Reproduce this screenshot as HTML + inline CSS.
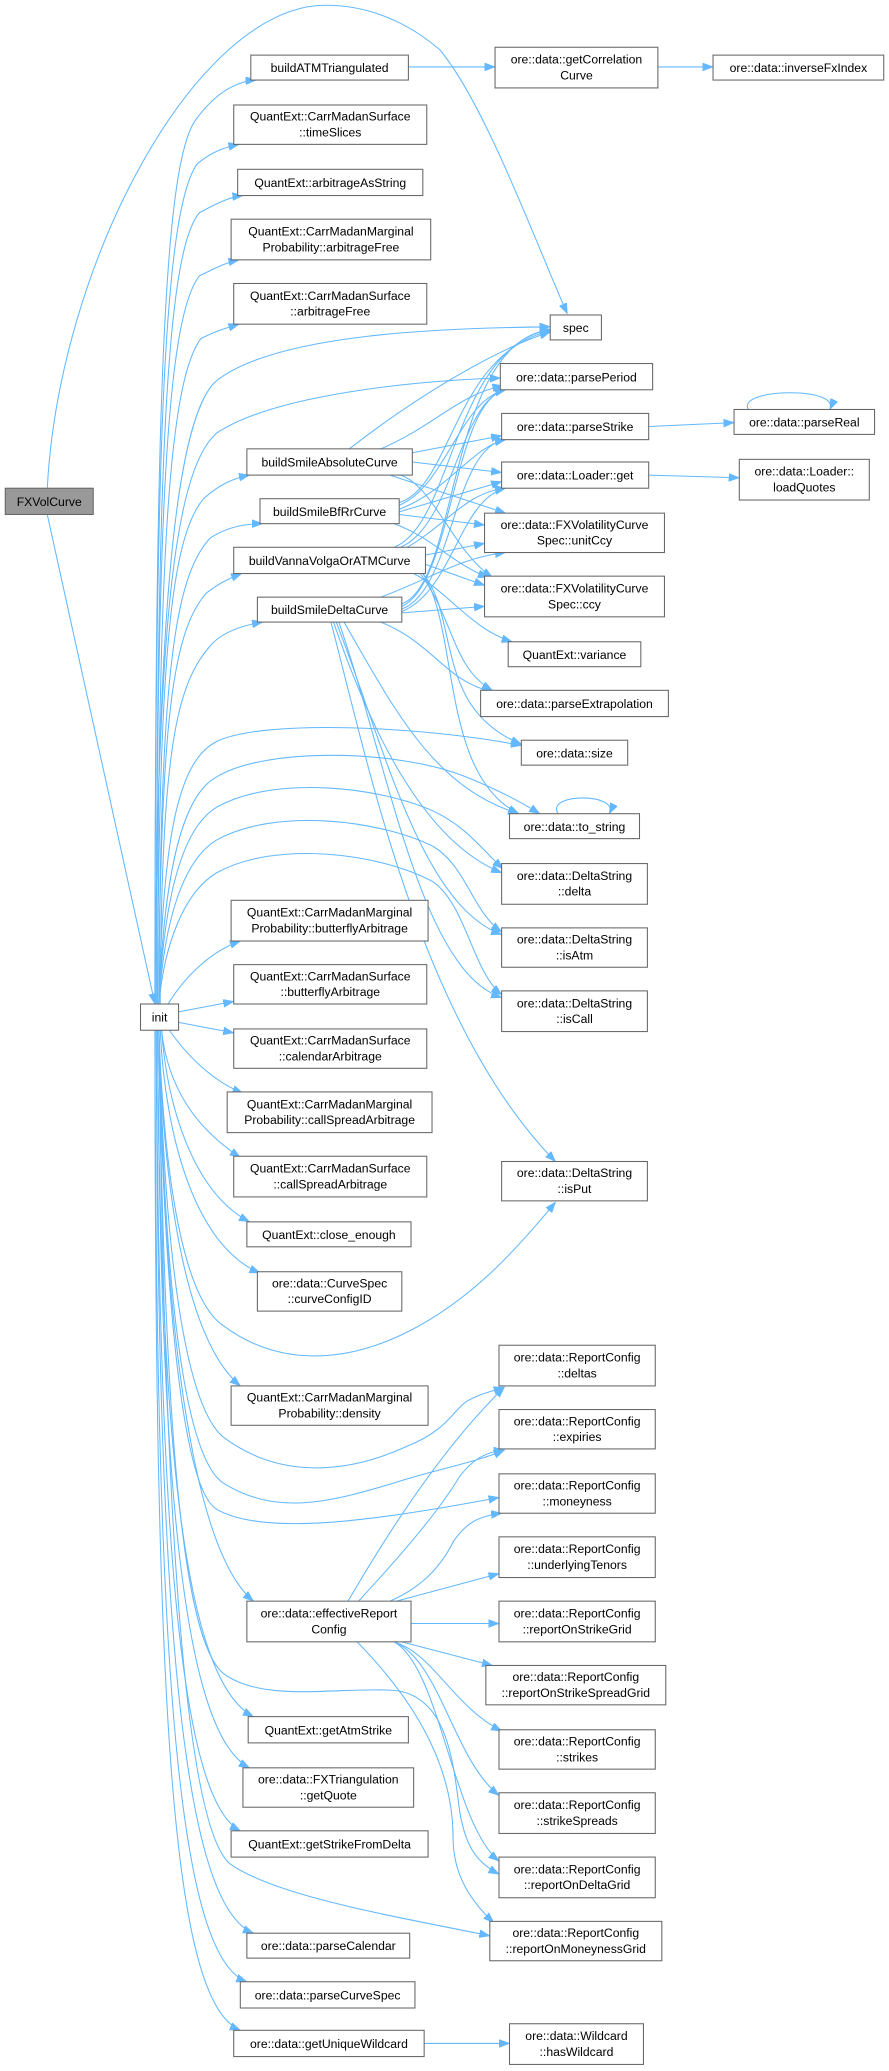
<!DOCTYPE html>
<html><head><meta charset="utf-8"><style>
html,body{margin:0;padding:0;background:#fff;}
svg{display:block;}
text{font-family:"Liberation Sans",sans-serif;font-size:9.3px;fill:#000;text-anchor:middle;}
.n{fill:#fff;stroke:#666;stroke-width:0.8;}
.e{fill:none;stroke:#63b8ff;stroke-width:0.8;marker-end:url(#a);}
.s{fill:none;stroke:#63b8ff;stroke-width:0.8;}
</style></head><body>
<svg width="889" height="2071" viewBox="0 0 677 1578" preserveAspectRatio="none" xmlns="http://www.w3.org/2000/svg">
<defs><marker id="a" markerUnits="userSpaceOnUse" markerWidth="9" markerHeight="7" refX="8" refY="3" orient="auto"><path d="M0,0 L8,3 L0,6 z" fill="#63b8ff" stroke="#63b8ff" stroke-width="0.5"/></marker></defs>

<!-- edges -->
<g>
<path class="e" d="M36,392 L118,765"/>
<path class="e" d="M36,372 C45,200 150,4 248,4 C290,4 320,25 335,38 C370,80 410,190 432,239"/>
<path class="e" d="M311,51 L377,51"/>
<path class="e" d="M501,51 L543,51"/>
<path class="e" d="M494,325 L559,322"/>
<path class="e" d="M570,312 C560,296 640,294 632,312"/>
<path class="e" d="M494,362 L563,364"/>
<path class="e" d="M425,620 C415,604 472,604 464,620"/>
<path class="e" d="M323,1557 L388,1557"/>

<!-- init to left nodes above -->
<path class="e" d="M118,765 C118,300 125,120 150,90 C165,70 180,62 195,61"/>
<path class="e" d="M118,765 C118,320 126,160 150,125 C162,115 172,112 182,110"/>
<path class="e" d="M119,765 C119,350 127,190 152,162 C165,155 175,150 185,149"/>
<path class="e" d="M119,765 C119,380 128,240 152,210 C165,204 172,200 182,198"/>
<path class="e" d="M120,765 C120,420 129,290 153,258 C165,252 172,250 182,247"/>
<path class="e" d="M120,765 C121,500 130,410 155,380 C168,368 180,364 190,362"/>
<path class="e" d="M121,765 C122,520 132,440 160,410 C172,402 186,399 200,399"/>
<path class="e" d="M121,765 C122,540 133,480 157,452 C167,444 176,440 184,437"/>
<path class="e" d="M122,765 C123,570 134,520 162,490 C172,480 188,476 200,474"/>
<!-- init to neighbours -->
<path class="e" d="M128,765 C140,745 160,725 183,717"/>
<path class="e" d="M136,771 L178,763"/>
<path class="e" d="M136,779 L178,787"/>
<path class="e" d="M129,785 C145,808 165,825 185,833"/>
<!-- init to left nodes below -->
<path class="e" d="M123,785 C128,830 150,860 183,882"/>
<path class="e" d="M123,785 C128,850 150,910 190,931"/>
<path class="e" d="M122,785 C126,870 150,950 198,970"/>
<path class="e" d="M121,785 C124,900 140,1020 183,1056"/>
<path class="e" d="M121,785 C124,1000 145,1180 193,1220"/>
<path class="e" d="M120,785 C122,1100 140,1280 193,1308"/>
<path class="e" d="M120,785 C122,1120 138,1320 190,1347"/>
<path class="e" d="M119,785 C121,1150 135,1370 183,1395"/>
<path class="e" d="M119,785 C120,1200 135,1450 193,1473"/>
<path class="e" d="M118,785 C119,1250 133,1490 188,1510"/>
<path class="e" d="M118,785 C118,1300 130,1525 183,1547"/>

<!-- init to right nodes -->
<path class="e" d="M118,765 C120,500 130,320 165,290 C210,255 330,250 419,249"/>
<path class="e" d="M118,765 C120,500 130,360 165,330 C210,300 320,290 381,288"/>
<path class="e" d="M121,765 C124,640 135,580 165,565 C200,548 320,553 397,568"/>
<path class="e" d="M121,765 C125,660 140,605 165,592 C200,570 300,570 355,592 C375,600 395,610 411,620"/>
<path class="e" d="M121,765 C125,680 140,630 165,615 C210,590 290,600 330,618 C355,630 365,645 383,662"/>
<path class="e" d="M121,765 C125,700 140,655 165,640 C210,615 290,625 330,645 C355,660 360,695 382,710"/>
<path class="e" d="M121,765 C125,720 140,680 165,665 C210,640 290,650 330,672 C355,690 360,740 382,758"/>
<path class="e" d="M121,785 C125,900 140,990 170,1010 C210,1040 260,1040 310,1015 C360,990 395,950 423,916"/>
<path class="e" d="M121,785 C125,950 140,1070 170,1095 C210,1125 260,1125 310,1102 C340,1090 345,1075 355,1068 C365,1062 375,1060 384,1057"/>
<path class="e" d="M121,785 C125,980 140,1110 170,1130 C210,1155 250,1145 300,1130 C330,1120 360,1115 384,1105"/>
<path class="e" d="M121,785 C125,1000 140,1135 165,1150 C200,1170 280,1160 380,1141"/>
<path class="e" d="M121,785 C125,1100 140,1250 170,1275 C200,1298 260,1285 300,1288 C340,1292 345,1340 350,1380 C355,1410 365,1420 380,1428"/>
<path class="e" d="M121,785 C125,1150 140,1390 175,1420 C210,1445 300,1460 373,1475"/>

<!-- effectiveReportConfig -->
<path class="e" d="M265,1220 C300,1160 340,1100 384,1057"/>
<path class="e" d="M273,1220 C310,1180 335,1150 350,1125 C360,1112 370,1106 384,1105"/>
<path class="e" d="M297,1220 C320,1210 335,1195 345,1175 C355,1160 365,1155 382,1153"/>
<path class="e" d="M302,1220 L380,1199"/>
<path class="e" d="M313,1237 L380,1237"/>
<path class="e" d="M306,1251 L375,1269"/>
<path class="e" d="M300,1251 C330,1260 345,1300 382,1319"/>
<path class="e" d="M300,1251 C335,1265 345,1340 380,1368"/>
<path class="e" d="M300,1251 C335,1270 345,1390 380,1418"/>
<path class="e" d="M272,1251 C310,1290 345,1340 345,1400 C345,1430 360,1450 376,1465"/>

<!-- buildSmileAbsoluteCurve -->
<path class="e" d="M266,342 C320,300 380,265 419,253"/>
<path class="e" d="M290,342 C330,325 350,300 383,294"/>
<path class="e" d="M314,345 L382,332"/>
<path class="e" d="M314,352 L382,360"/>
<path class="e" d="M297,362 L385,391"/>
<path class="e" d="M305,362 C330,370 345,420 375,440"/>
<!-- BfRr -->
<path class="e" d="M304,383 C345,370 345,270 419,252"/>
<path class="e" d="M304,385 C340,370 350,305 385,297"/>
<path class="e" d="M304,388 C340,375 360,340 385,335"/>
<path class="e" d="M304,390 L382,367"/>
<path class="e" d="M304,392 L369,400"/>
<path class="e" d="M300,399 C330,410 345,430 372,440"/>
<!-- Vanna -->
<path class="e" d="M300,417 C345,400 345,265 419,251"/>
<path class="e" d="M305,417 C345,400 350,305 385,297"/>
<path class="e" d="M310,417 C340,400 355,375 385,372"/>
<path class="e" d="M324,423 L369,414"/>
<path class="e" d="M324,430 L369,446"/>
<path class="e" d="M315,437 C340,450 360,480 390,489"/>
<path class="e" d="M320,437 C345,470 345,510 375,526"/>
<path class="e" d="M322,437 C350,470 330,540 397,567"/>
<path class="e" d="M322,437 C350,480 335,590 395,620"/>
<!-- SmileDelta -->
<path class="e" d="M306,460 C350,445 340,262 419,251"/>
<path class="e" d="M306,462 C345,445 345,305 385,297"/>
<path class="e" d="M306,464 C345,450 345,340 385,335"/>
<path class="e" d="M306,466 C345,450 350,380 385,372"/>
<path class="e" d="M290,455 C330,440 350,425 385,421"/>
<path class="e" d="M306,467 L369,462"/>
<path class="e" d="M290,474 C330,490 340,520 375,527"/>
<path class="e" d="M254,474 C280,550 320,640 382,665"/>
<path class="e" d="M256,474 C290,560 320,690 382,712"/>
<path class="e" d="M258,474 C295,580 320,740 382,760"/>
<path class="e" d="M252,474 C280,580 320,780 423,885"/>
<path class="e" d="M262,474 C300,540 330,600 395,620"/>
</g>

<!-- nodes -->
<g>
<rect x="4" y="372" width="67" height="20" fill="#999" stroke="#666" stroke-width="0.8"/><text x="37.5" y="385.5">FXVolCurve</text>
<rect class="n" x="107" y="765" width="29" height="20"/><text x="121.5" y="778.5">init</text>

<rect class="n" x="191" y="42" width="120" height="19"/><text x="251" y="55">buildATMTriangulated</text>
<rect class="n" x="178" y="80" width="147" height="30"/><text x="251.5" y="92">QuantExt::CarrMadanSurface</text><text x="251.5" y="104">::timeSlices</text>
<rect class="n" x="181" y="129" width="141" height="20"/><text x="251.5" y="142.5">QuantExt::arbitrageAsString</text>
<rect class="n" x="176" y="167" width="152" height="31"/><text x="252" y="179.5">QuantExt::CarrMadanMarginal</text><text x="252" y="191.5">Probability::arbitrageFree</text>
<rect class="n" x="178" y="216" width="147" height="31"/><text x="251.5" y="228.5">QuantExt::CarrMadanSurface</text><text x="251.5" y="240.5">::arbitrageFree</text>
<rect class="n" x="188" y="342" width="126" height="20"/><text x="251" y="355.5">buildSmileAbsoluteCurve</text>
<rect class="n" x="198" y="380" width="106" height="19"/><text x="251" y="393">buildSmileBfRrCurve</text>
<rect class="n" x="178" y="417" width="146" height="20"/><text x="251" y="430.5">buildVannaVolgaOrATMCurve</text>
<rect class="n" x="196" y="455" width="110" height="19"/><text x="251" y="468">buildSmileDeltaCurve</text>
<rect class="n" x="176" y="686" width="150" height="31"/><text x="251" y="698.5">QuantExt::CarrMadanMarginal</text><text x="251" y="710.5">Probability::butterflyArbitrage</text>
<rect class="n" x="178" y="735" width="147" height="30"/><text x="251.5" y="747">QuantExt::CarrMadanSurface</text><text x="251.5" y="759">::butterflyArbitrage</text>
<rect class="n" x="178" y="784" width="147" height="30"/><text x="251.5" y="796">QuantExt::CarrMadanSurface</text><text x="251.5" y="808">::calendarArbitrage</text>
<rect class="n" x="173" y="832" width="156" height="31"/><text x="251" y="844.5">QuantExt::CarrMadanMarginal</text><text x="251" y="856.5">Probability::callSpreadArbitrage</text>
<rect class="n" x="178" y="881" width="147" height="31"/><text x="251.5" y="893.5">QuantExt::CarrMadanSurface</text><text x="251.5" y="905.5">::callSpreadArbitrage</text>
<rect class="n" x="188" y="931" width="125" height="19"/><text x="250.5" y="944">QuantExt::close_enough</text>
<rect class="n" x="196" y="969" width="110" height="30"/><text x="251" y="981">ore::data::CurveSpec</text><text x="251" y="993">::curveConfigID</text>
<rect class="n" x="176" y="1056" width="150" height="30"/><text x="251" y="1068">QuantExt::CarrMadanMarginal</text><text x="251" y="1080">Probability::density</text>
<rect class="n" x="188" y="1220" width="125" height="31"/><text x="250.5" y="1232.5">ore::data::effectiveReport</text><text x="250.5" y="1244.5">Config</text>
<rect class="n" x="189" y="1308" width="122" height="20"/><text x="250" y="1321.5">QuantExt::getAtmStrike</text>
<rect class="n" x="185" y="1347" width="130" height="30"/><text x="250" y="1359">ore::data::FXTriangulation</text><text x="250" y="1371">::getQuote</text>
<rect class="n" x="176" y="1395" width="150" height="20"/><text x="251" y="1408.5">QuantExt::getStrikeFromDelta</text>
<rect class="n" x="188" y="1473" width="124" height="19"/><text x="250" y="1486">ore::data::parseCalendar</text>
<rect class="n" x="183" y="1510" width="133" height="20"/><text x="249.5" y="1523.5">ore::data::parseCurveSpec</text>
<rect class="n" x="178" y="1547" width="145" height="20"/><text x="250.5" y="1560.5">ore::data::getUniqueWildcard</text>

<rect class="n" x="377" y="36" width="124" height="31"/><text x="439" y="48.5">ore::data::getCorrelation</text><text x="439" y="60.5">Curve</text>
<rect class="n" x="543" y="42" width="130" height="19"/><text x="608" y="55">ore::data::inverseFxIndex</text>
<rect class="n" x="419" y="240" width="39" height="19"/><text x="438.5" y="253">spec</text>
<rect class="n" x="381" y="277" width="116" height="20"/><text x="439" y="290.5">ore::data::parsePeriod</text>
<rect class="n" x="382" y="315" width="112" height="20"/><text x="438" y="328.5">ore::data::parseStrike</text>
<rect class="n" x="559" y="312" width="107" height="19"/><text x="612.5" y="325">ore::data::parseReal</text>
<rect class="n" x="382" y="352" width="112" height="20"/><text x="438" y="365.5">ore::data::Loader::get</text>
<rect class="n" x="563" y="350" width="99" height="31"/><text x="612.5" y="362.5">ore::data::Loader::</text><text x="612.5" y="374.5">loadQuotes</text>
<rect class="n" x="369" y="391" width="137" height="30"/><text x="437.5" y="403">ore::data::FXVolatilityCurve</text><text x="437.5" y="415">Spec::unitCcy</text>
<rect class="n" x="369" y="439" width="137" height="31"/><text x="437.5" y="451.5">ore::data::FXVolatilityCurve</text><text x="437.5" y="463.5">Spec::ccy</text>
<rect class="n" x="387" y="489" width="101" height="19"/><text x="437.5" y="502">QuantExt::variance</text>
<rect class="n" x="366" y="526" width="143" height="20"/><text x="437.5" y="539.5">ore::data::parseExtrapolation</text>
<rect class="n" x="397" y="564" width="81" height="19"/><text x="437.5" y="577">ore::data::size</text>
<rect class="n" x="388" y="620" width="99" height="19"/><text x="437.5" y="633">ore::data::to_string</text>
<rect class="n" x="382" y="658" width="111" height="31"/><text x="437.5" y="670.5">ore::data::DeltaString</text><text x="437.5" y="682.5">::delta</text>
<rect class="n" x="382" y="707" width="111" height="30"/><text x="437.5" y="719">ore::data::DeltaString</text><text x="437.5" y="731">::isAtm</text>
<rect class="n" x="382" y="755" width="111" height="31"/><text x="437.5" y="767.5">ore::data::DeltaString</text><text x="437.5" y="779.5">::isCall</text>
<rect class="n" x="382" y="885" width="111" height="30"/><text x="437.5" y="897">ore::data::DeltaString</text><text x="437.5" y="909">::isPut</text>
<rect class="n" x="380" y="1025" width="119" height="31"/><text x="439.5" y="1037.5">ore::data::ReportConfig</text><text x="439.5" y="1049.5">::deltas</text>
<rect class="n" x="380" y="1074" width="119" height="30"/><text x="439.5" y="1086">ore::data::ReportConfig</text><text x="439.5" y="1098">::expiries</text>
<rect class="n" x="380" y="1123" width="119" height="30"/><text x="439.5" y="1135">ore::data::ReportConfig</text><text x="439.5" y="1147">::moneyness</text>
<rect class="n" x="380" y="1171" width="119" height="31"/><text x="439.5" y="1183.5">ore::data::ReportConfig</text><text x="439.5" y="1195.5">::underlyingTenors</text>
<rect class="n" x="380" y="1220" width="119" height="31"/><text x="439.5" y="1232.5">ore::data::ReportConfig</text><text x="439.5" y="1244.5">::reportOnStrikeGrid</text>
<rect class="n" x="370" y="1269" width="137" height="30"/><text x="438.5" y="1281">ore::data::ReportConfig</text><text x="438.5" y="1293">::reportOnStrikeSpreadGrid</text>
<rect class="n" x="380" y="1318" width="119" height="30"/><text x="439.5" y="1330">ore::data::ReportConfig</text><text x="439.5" y="1342">::strikes</text>
<rect class="n" x="380" y="1366" width="119" height="31"/><text x="439.5" y="1378.5">ore::data::ReportConfig</text><text x="439.5" y="1390.5">::strikeSpreads</text>
<rect class="n" x="380" y="1415" width="119" height="31"/><text x="439.5" y="1427.5">ore::data::ReportConfig</text><text x="439.5" y="1439.5">::reportOnDeltaGrid</text>
<rect class="n" x="373" y="1464" width="131" height="30"/><text x="438.5" y="1476">ore::data::ReportConfig</text><text x="438.5" y="1488">::reportOnMoneynessGrid</text>
<rect class="n" x="388" y="1542" width="102" height="31"/><text x="439" y="1554.5">ore::data::Wildcard</text><text x="439" y="1566.5">::hasWildcard</text>
</g>
</svg>
</body></html>
